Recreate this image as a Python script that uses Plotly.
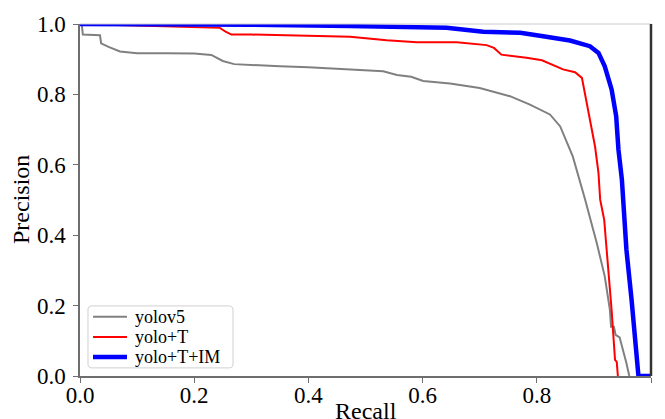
import plotly.graph_objects as go

gray_recall = [0, 0.003, 0.005, 0.035, 0.037, 0.05, 0.07, 0.1, 0.15, 0.2, 0.23, 0.25, 0.27, 0.3,
               0.35, 0.4, 0.455, 0.5, 0.531, 0.555, 0.58, 0.601, 0.648, 0.70, 0.753, 0.788,
               0.823, 0.841, 0.863, 0.884, 0.905, 0.919, 0.928, 0.930, 0.935, 0.938, 0.945,
               0.957, 0.962]
gray_precision = [1.0, 1.0, 0.97, 0.968, 0.945, 0.935, 0.922, 0.917, 0.917, 0.916, 0.912, 0.895,
                  0.886, 0.883, 0.880, 0.877, 0.873, 0.870, 0.866, 0.855, 0.850, 0.838, 0.831,
                  0.818, 0.795, 0.771, 0.743, 0.709, 0.624, 0.505, 0.378, 0.283, 0.188, 0.14,
                  0.14, 0.117, 0.11, 0.036, 0.0]

red_recall = [0, 0.1, 0.2, 0.245, 0.255, 0.265, 0.3, 0.385, 0.473, 0.537, 0.59, 0.66, 0.712,
              0.725, 0.738, 0.782, 0.809, 0.846, 0.867, 0.879, 0.884, 0.893, 0.902, 0.908,
              0.911, 0.918, 0.925, 0.931, 0.937, 0.94, 0.942]
red_precision = [1.0, 0.995, 0.992, 0.989, 0.978, 0.970, 0.970, 0.968, 0.964, 0.954, 0.948,
                 0.948, 0.940, 0.932, 0.913, 0.904, 0.897, 0.871, 0.863, 0.847, 0.804, 0.728,
                 0.652, 0.577, 0.501, 0.444, 0.311, 0.188, 0.046, 0.04, 0.0]

blue_recall = [0, 0.2, 0.3, 0.473, 0.642, 0.706, 0.771, 0.811, 0.858, 0.893, 0.908, 0.919,
               0.931, 0.939, 0.943, 0.949, 0.951, 0.957, 0.966, 0.975, 0.978, 1.0]
blue_precision = [1.0, 1.0, 0.998, 0.994, 0.989, 0.978, 0.975, 0.965, 0.953, 0.937, 0.918,
                  0.880, 0.814, 0.738, 0.643, 0.558, 0.501, 0.358, 0.216, 0.074, 0.0, 0.0]

series_names = ["yolov5", "yolo+T", "yolo+T+IM"]
series_colors = ["#808080", "#ff0000", "#0000ff"]
series_widths = [2, 2, 4.5]

tick_vals = [0.0, 0.2, 0.4, 0.6, 0.8, 1.0]
tick_text = ["0.0", "0.2", "0.4", "0.6", "0.8", "1.0"]

font = "Liberation Serif"

fig = go.Figure()
for (xs, ys), name, col, w in zip(
        [(gray_recall, gray_precision), (red_recall, red_precision), (blue_recall, blue_precision)],
        series_names, series_colors, series_widths):
    fig.add_trace(go.Scatter(x=xs, y=ys, mode="lines", name=name,
                             line=dict(color=col, width=w)))

tickfont = dict(family=font, size=23, color="black")

# page body has an 8px margin, so the figure is offset by 8px
fig.update_layout(
    width=657, height=411,
    margin=dict(l=72, r=14, t=16, b=43, autoexpand=False),
    paper_bgcolor="white", plot_bgcolor="white",
    font=dict(family=font, size=23, color="black"),
    showlegend=False,
)
fig.update_xaxes(range=[0, 1], tickvals=tick_vals, ticktext=tick_text, showgrid=False,
                 zeroline=False, showline=True, linecolor="#6e6e6e", linewidth=1.5,
                 ticks="outside", ticklen=5, tickcolor="#6e6e6e", tickwidth=1.2,
                 automargin=False, tickfont=tickfont, ticklabelstandoff=-7)
fig.update_yaxes(range=[0, 1], tickvals=tick_vals, ticktext=tick_text, showgrid=False,
                 zeroline=False, showline=True, linecolor="#6e6e6e", linewidth=1.5,
                 ticks="outside", ticklen=5, tickcolor="#6e6e6e", tickwidth=1.2,
                 automargin=False, tickfont=tickfont, ticklabelstandoff=3)

fig.add_annotation(text="Recall", xref="paper", yref="paper", x=0.5, y=0,
                   xanchor="center", yanchor="top", yshift=-20, showarrow=False,
                   font=dict(family=font, size=24, color="black"))
fig.add_annotation(text="Precision", xref="paper", yref="paper", x=0, y=0.5,
                   xanchor="right", yanchor="middle", xshift=-44, textangle=-90,
                   showarrow=False, font=dict(family=font, size=24, color="black"))
fig.add_shape(type="line", xref="paper", yref="paper", x0=0, x1=1, y0=1, y1=1,
              line=dict(color="#cccccc", width=1))
fig.add_shape(type="line", xref="paper", yref="paper", x0=1, x1=1, y0=0, y1=1,
              line=dict(color="#333333", width=2.5))

# legend box (matplotlib style, rounded corners)
x0, x1, y0, y1 = 0.014, 0.268, 0.023, 0.199
rx, ry = 0.007, 0.0114
path = (f"M {x0+rx},{y0} L {x1-rx},{y0} Q {x1},{y0} {x1},{y0+ry} L {x1},{y1-ry} "
        f"Q {x1},{y1} {x1-rx},{y1} L {x0+rx},{y1} Q {x0},{y1} {x0},{y1-ry} "
        f"L {x0},{y0+ry} Q {x0},{y0} {x0+rx},{y0} Z")
fig.add_shape(type="path", path=path, xref="paper", yref="paper",
              fillcolor="rgba(255,255,255,0.85)", line=dict(color="#d0d0d0", width=1))
row_y = [0.168, 0.111, 0.054]
for name, col, w, ry_ in zip(series_names, series_colors, series_widths, row_y):
    fig.add_shape(type="line", xref="paper", yref="paper", x0=0.0228, x1=0.0823,
                  y0=ry_, y1=ry_, line=dict(color=col, width=w))
    fig.add_annotation(text=name, xref="paper", yref="paper", x=0.093, y=ry_,
                       xanchor="left", yanchor="middle", showarrow=False,
                       font=dict(family=font, size=18, color="black"))

fig.write_html("out.html")
